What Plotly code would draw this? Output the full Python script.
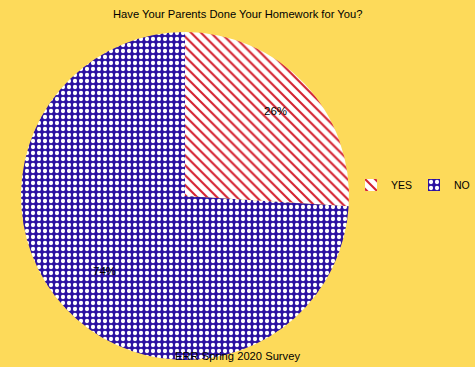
import math
import plotly.graph_objects as go

labels = ["YES", "NO"]
values = [26, 74]
fg_colors = ["#D42030", "#FFFFFF"]
bg_colors = ["#FFFFFF", "#2C12A2"]
shapes = ["\\", "."]
label_radius = [0.76, 0.67]  # fraction of pie radius where each % label sits

W, H = 475, 367
CX, CY, R = 185, 196, 164  # pie centre / radius in pixels

fig = go.Figure(go.Pie(
    labels=labels, values=values, sort=False, direction="clockwise", rotation=0,
    textinfo="none",
    marker=dict(
        colors=bg_colors,
        line=dict(width=0),
        pattern=dict(shape=shapes, fgcolor=fg_colors, bgcolor=bg_colors,
                     fillmode="overlay", fgopacity=1, size=[7, 6], solidity=[0.3, 0.4]),
    ),
    domain=dict(x=[(CX - R) / W, (CX + R) / W], y=[1 - (CY + R) / H, 1 - (CY - R) / H]),
    hoverinfo="label+percent",
))

# percent labels placed inside each slice, from the data
total = sum(values)
annotations = []
cum = 0
for v, k in zip(values, label_radius):
    mid = (cum + v / 2) / total
    cum += v
    th = 2 * math.pi * mid
    px = CX + R * k * math.sin(th)
    py = CY - R * k * math.cos(th)
    annotations.append(dict(text=f"{round(100 * v / total)}%", x=px / W, y=1 - py / H,
                            xref="paper", yref="paper", xanchor="center", yanchor="middle",
                            showarrow=False, font=dict(size=11.5, color="black")))

annotations += [
    dict(text="Have Your Parents Done Your Homework for You?", x=0.5, y=1 - 14 / H,
         xref="paper", yref="paper", xanchor="center", yanchor="middle",
         showarrow=False, font=dict(size=11.2)),
    dict(text="ERR Spring 2020 Survey", x=0.5, y=1 - 356 / H,
         xref="paper", yref="paper", xanchor="center", yanchor="middle",
         showarrow=False, font=dict(size=11.2)),
]

fig.update_layout(
    width=W, height=H,
    margin=dict(l=0, r=0, t=0, b=0, autoexpand=False),
    paper_bgcolor="#FDDA5A", plot_bgcolor="#FDDA5A",
    font=dict(family="Liberation Sans, Arial", size=12, color="black"),
    showlegend=True,
    legend=dict(orientation="h", x=351 / W, y=1 - 185 / H, xanchor="left", yanchor="middle",
                bgcolor="rgba(0,0,0,0)", font=dict(size=10.5), entrywidth=18,
                entrywidthmode="pixels", itemwidth=30),
    annotations=annotations,
)
fig.write_html("out.html", config={"displayModeBar": False},
               post_script="document.body.style.margin='0';")
